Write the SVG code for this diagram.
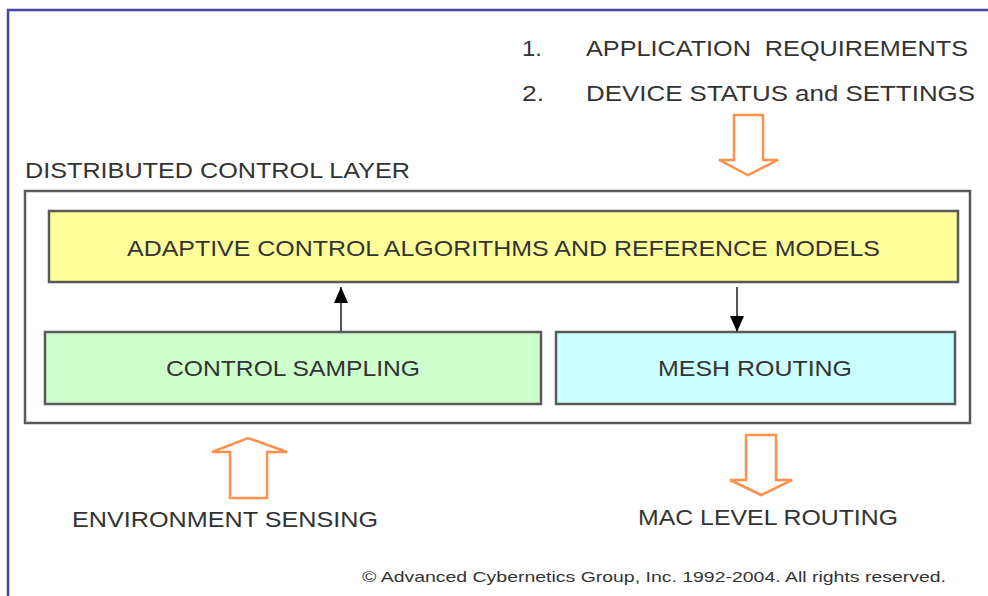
<svg xmlns="http://www.w3.org/2000/svg" width="988" height="596" viewBox="0 0 988 596">
<defs>
<style>
.t{font-family:"Liberation Sans",Arial,sans-serif;fill:#333;font-size:22px;white-space:pre}
.box{stroke:#5a5a5a;stroke-width:2.5}
.oa{fill:#fff;stroke:#ff914d;stroke-width:2.5;stroke-linejoin:miter}
.ln{stroke:#555;stroke-width:2}
</style>
<marker id="ah2" viewBox="0 0 10 10" refX="10" refY="5" markerWidth="16" markerHeight="14" markerUnits="userSpaceOnUse" orient="auto" preserveAspectRatio="none">
<path d="M0,0 L10,5 L0,10 z" fill="#000"/>
</marker>
</defs>
<rect x="0" y="0" width="988" height="596" fill="#fff"/>
<path d="M8,600 L8,10 L992,10" fill="none" stroke="#4646a8" stroke-width="2.5"/>

<g id="header">
<text class="t" x="522" y="56" textLength="20" lengthAdjust="spacingAndGlyphs">1.</text>
<text class="t" x="586" y="56" textLength="382" lengthAdjust="spacingAndGlyphs" xml:space="preserve">APPLICATION  REQUIREMENTS</text>
<text class="t" x="522" y="101" textLength="22" lengthAdjust="spacingAndGlyphs">2.</text>
<text class="t" x="586" y="101" textLength="389" lengthAdjust="spacingAndGlyphs">DEVICE STATUS and SETTINGS</text>
</g>

<g id="layer">
<text class="t" x="25" y="178" textLength="385" lengthAdjust="spacingAndGlyphs">DISTRIBUTED CONTROL LAYER</text>
<rect class="box" x="25" y="191" width="945" height="232" fill="#fff"/>
</g>

<g id="adaptive">
<rect class="box" x="49" y="211" width="909" height="71" fill="#ffff99"/>
<text class="t" x="127" y="256" textLength="753" lengthAdjust="spacingAndGlyphs">ADAPTIVE CONTROL ALGORITHMS AND REFERENCE MODELS</text>
</g>

<g id="sampling">
<rect class="box" x="45" y="332" width="496" height="72" fill="#ccffcc"/>
<text class="t" x="166" y="376" textLength="254" lengthAdjust="spacingAndGlyphs">CONTROL SAMPLING</text>
</g>

<g id="mesh">
<rect class="box" x="556" y="332" width="399" height="72" fill="#ccffff"/>
<text class="t" x="658" y="376" textLength="194" lengthAdjust="spacingAndGlyphs">MESH ROUTING</text>
</g>

<g id="connectors">
<line class="ln" x1="341" y1="332" x2="341" y2="287" marker-end="url(#ah2)"/>
<line class="ln" x1="737" y1="287" x2="737" y2="332" marker-end="url(#ah2)"/>
<path class="oa" d="M734,115 L763,115 L763,160 L778,160 L748,175 L719,160 L734,160 Z"/>
<path class="oa" d="M230,498 L267,498 L267,452 L287,452 L248,438 L212,452 L230,452 Z"/>
<path class="oa" d="M746,435 L776,435 L776,480 L792,480 L761,495 L730,480 L746,480 Z"/>
</g>

<g id="env">
<text class="t" x="72" y="527" textLength="306" lengthAdjust="spacingAndGlyphs">ENVIRONMENT SENSING</text>
</g>
<g id="mac">
<text class="t" x="638" y="525" textLength="260" lengthAdjust="spacingAndGlyphs">MAC LEVEL ROUTING</text>
</g>
<g id="copyright">
<text class="t" x="362" y="582" style="font-size:15px" textLength="584" lengthAdjust="spacingAndGlyphs">© Advanced Cybernetics Group, Inc. 1992-2004. All rights reserved.</text>
</g>
</svg>
